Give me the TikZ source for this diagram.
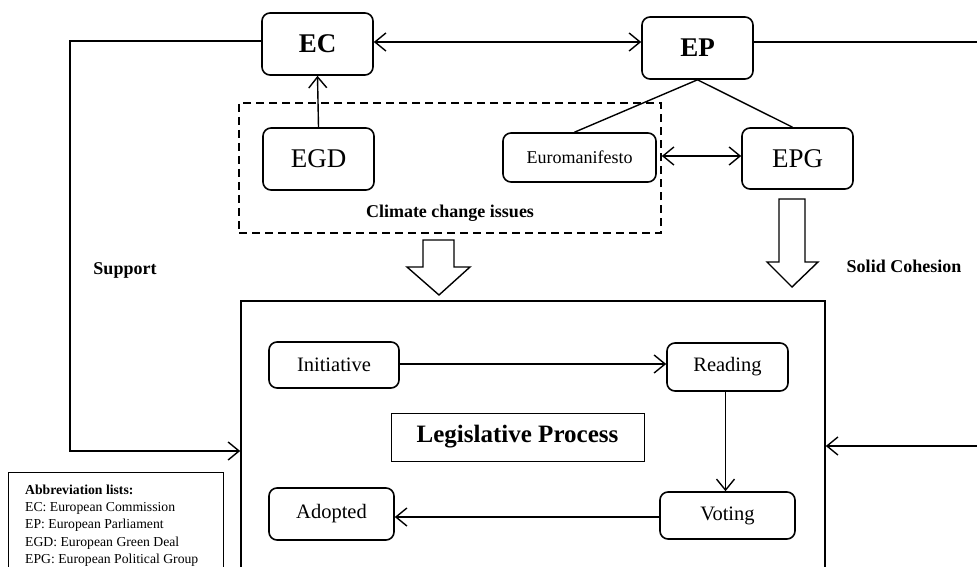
\documentclass[tikz,border=0pt]{standalone}
\usepackage{fontspec}
\setmainfont{Liberation Serif}
\usetikzlibrary{arrows.meta}
\begin{document}
\begin{tikzpicture}[x=1pt,y=-1pt,
  rbox/.style={draw,line width=1.6pt,rounded corners=8pt,inner sep=0pt,align=center},
  big/.style={font=\fontsize{27}{30}\selectfont},
  bigb/.style={font=\fontsize{27}{30}\selectfont\bfseries},
  mid/.style={font=\fontsize{20.5}{24}\selectfont},
  lbl/.style={font=\fontsize{18}{21}\selectfont\bfseries},
  conn/.style={line width=1.4pt},
  arr/.style={conn,-{Straight Barb[length=11pt,width=18pt,line width=1.4pt]}},
  darr/.style={conn,{Straight Barb[length=11pt,width=18pt,line width=1.4pt]}-{Straight Barb[length=11pt,width=18pt,line width=1.4pt]}},
  hollow/.style={draw,line width=1.4pt,line join=miter}]
\useasboundingbox (0,0) rectangle (977,567);
\clip (0,0) rectangle (977,567);

% top nodes
\node[rbox,bigb,minimum width=111pt,minimum height=62pt] (EC) at (317.5,44) {EC};
\node[rbox,bigb,minimum width=111pt,minimum height=62pt] (EP) at (697.5,48) {EP};
\node[rbox,big,minimum width=111pt,minimum height=62pt] (EGD) at (318.5,159) {EGD};
\node[rbox,font=\fontsize{18}{21}\selectfont,minimum width=153pt,minimum height=49pt] (euro) at (579.5,157.5) {Euromanifesto};
\node[rbox,big,minimum width=111pt,minimum height=61pt] (EPG) at (797.5,158.5) {EPG};

% dashed climate box
\node[draw,dashed,dash pattern=on 8pt off 5pt,line width=1.6pt,minimum width=422pt,minimum height=130pt,inner sep=0pt] (clim) at (450,168) {};
\node[lbl] (climtxt) at (450,213) {Climate change issues};

\node[lbl] (support) at (125,270) {Support};
\node[lbl] (solid) at (904,266) {Solid Cohesion};

% legislative box
\node[draw,line width=1.6pt,minimum width=584pt,minimum height=278pt,inner sep=0pt] (leg) at (533,440) {};
\node[draw,line width=0.9pt,minimum width=253pt,minimum height=48pt,inner sep=0pt,font=\fontsize{25}{28}\selectfont\bfseries] (LP) at (517.5,437) {Legislative Process};

\node[rbox,mid,minimum width=130pt,minimum height=46pt] (init) at (334,365) {Initiative};
\node[rbox,mid,minimum width=121pt,minimum height=48pt] (read) at (727.5,367) {Reading};
\node[rbox,mid,minimum width=135pt,minimum height=47pt] (vote) at (727.5,515.5) {Voting};
\node[rbox,mid,minimum width=125pt,minimum height=52pt] (adopt) at (331.5,514) {Adopted};

% abbreviation box
\node[draw,line width=0.9pt,minimum width=215pt,minimum height=118pt,inner sep=0pt] (abbr) at (115.5,531) {};
\node[anchor=north west,inner sep=0pt,align=left,font=\fontsize{13.7}{17.3}\selectfont] (abbrtxt) at (25,484.5)
  {\textbf{Abbreviation lists:}\\EC: European Commission\\EP: European Parliament\\EGD: European Green Deal\\EPG: European Political Group};

% connectors
\draw[darr] (EC.east |- 0,42) -- (EP.west |- 0,42);
\draw[arr] (EGD.north) -- (EC.south);
\draw[conn] (EP.south) -- ([xshift=-5pt]euro.north);
\draw[conn] (EP.south) -- ([xshift=-5pt]EPG.north);
\draw[darr] (clim.east |- 0,156) -- (EPG.west |- 0,156);
\draw[arr] (EC.west |- 0,41) -- (70,41) -- (70,451) -- (leg.west |- 0,451);
\draw[arr] (EP.east |- 0,42) -- (995,42) -- (995,446) -- (leg.east |- 0,446);
\draw[arr] (init.east |- 0,364) -- (read.west |- 0,364);
\draw[arr] ([xshift=-2pt]read.south) -- ([xshift=-2pt]vote.north);
\draw[arr] (vote.west |- 0,517) -- (adopt.east |- 0,517);

% hollow block arrows
\draw[hollow] (423,240) -- (454,240) -- (454,267) -- (470,267) -- (439,295) -- (407,267) -- (423,267) -- cycle;
\draw[hollow] (779,199) -- (805,199) -- (805,262) -- (818,262) -- (792,287) -- (767,262) -- (779,262) -- cycle;
\end{tikzpicture}
\end{document}
